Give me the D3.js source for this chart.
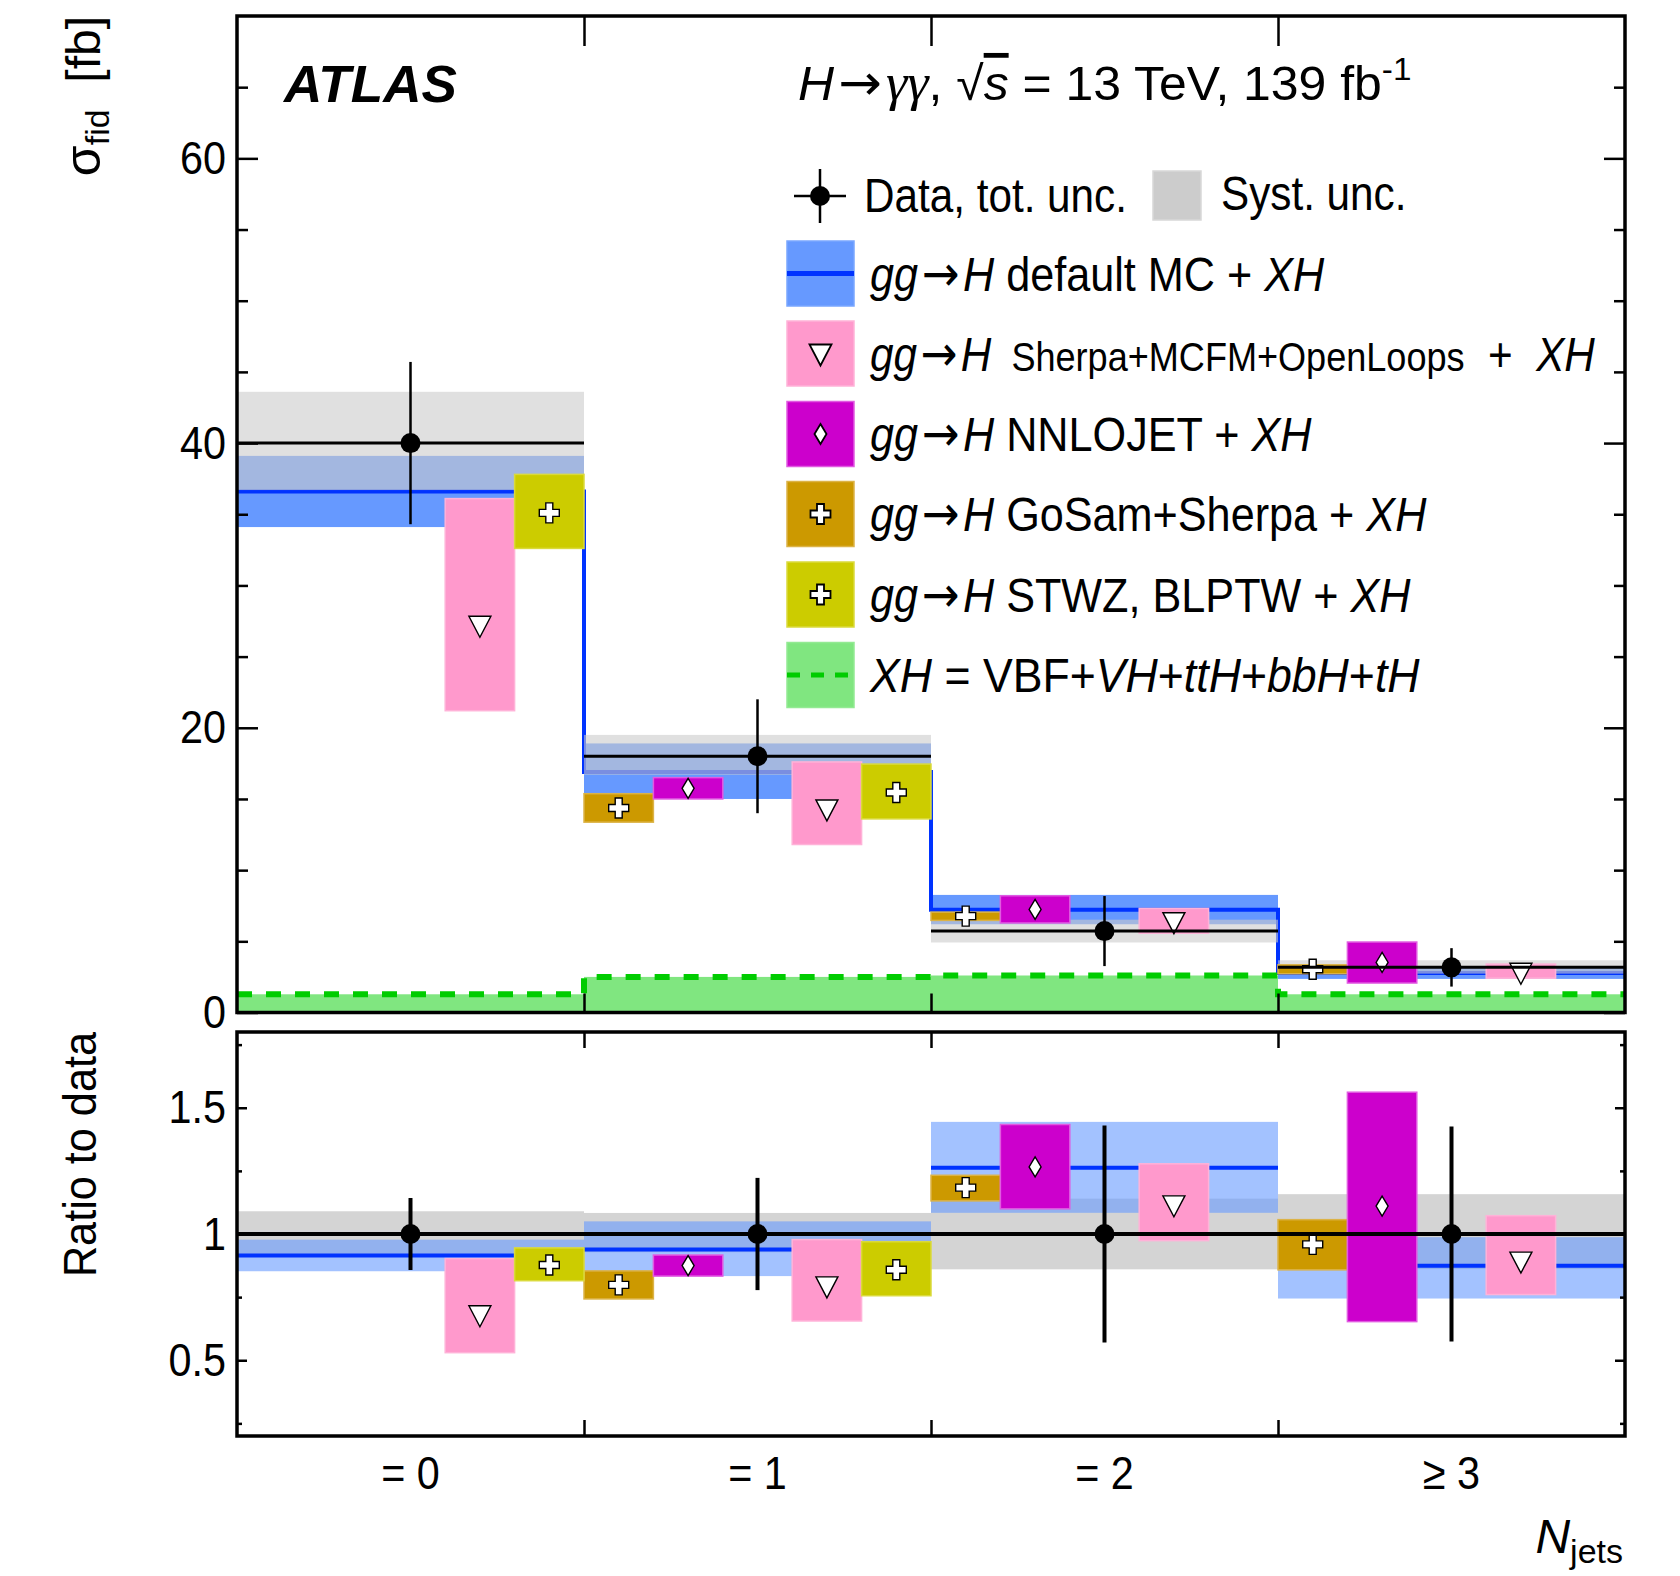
<!DOCTYPE html>
<html>
<head>
<meta charset="utf-8">
<script src="https://cdn.jsdelivr.net/npm/d3@7"></script>
<style>
body { margin: 0; background: #fff; }
text { font-family: "Liberation Sans", Arial, Helvetica, sans-serif; fill: #000; }
</style>
</head>
<body>
<script>

// N_jets bins
var bins = ["= 0", "= 1", "= 2", "\u2265 3"]

// data, total and systematic uncertainty [fb]
var dataVal = [40.0, 18.0, 5.72, 3.17]
var dataErr = [5.7, 4.0, 2.46, 1.35]
var systUp = [3.6, 1.5, 0.8, 0.5]
var systDn = [3.3, 1.3, 0.8, 0.44]

// gg->H default MC + XH
var mcVal = [36.6, 16.9, 7.22, 2.77]
var mcLo = [34.1, 15.0, 6.2, 2.36]
var mcHi = [39.1, 18.9, 8.26, 3.13]

// Sherpa+MCFM+OpenLoops
var sherpaVal = [27.2, 14.3, 6.38, 2.83]
var sherpaLo = [21.2, 11.8, 5.57, 2.41]
var sherpaHi = [36.1, 17.6, 7.31, 3.40]

// NNLOJET
var nnlojetVal = [null, 15.75, 7.24, 3.52]
var nnlojetLo = [null, 15.0, 6.29, 2.07]
var nnlojetHi = [null, 16.5, 8.2, 4.95]

// GoSam+Sherpa
var gosamVal = [null, 14.37, 6.77, 3.04]
var gosamLo = [null, 13.37, 6.47, 2.72]
var gosamHi = [null, 15.37, 7.05, 3.35]

// STWZ, BLPTW
var stwzVal = [35.1, 15.45, null, null]
var stwzLo = [32.6, 13.6, null, null]
var stwzHi = [37.8, 17.45, null, null]

// XH = VBF+VH+ttH+bbH+tH
var xhVal = [1.28, 2.5, 2.6, 1.28]

// tick values
var yMajor = [0, 20, 40, 60]
var yMinor = [5, 10, 15, 25, 30, 35, 45, 50, 55, 65]
var rMajor = [0.5, 1, 1.5]
var rMinor = [0.25, 0.75, 1.25, 1.75]


var L = 237, R = 1625
var upTop = 16, upBot = 1012.5
var loTop = 1032, loBot = 1436
var SX = 0.88

var svg = d3.select("body").append("svg")
  .attr("width", 1680)
  .attr("height", 1576)

var x = d3.scaleBand().domain(d3.range(bins.length)).range([L, R])
var xe = d3.scaleLinear().domain([0, bins.length]).range([L, R])
var slot = d3.scaleBand().domain(d3.range(5)).range([0, x.bandwidth()])
var y = d3.scaleLinear().domain([0, 70]).range([upBot, upTop])
var yr = d3.scaleLinear().domain([0.2, 1.8]).range([loBot, loTop])

var models = [
  { val: gosamVal, lo: gosamLo, hi: gosamHi, slot: 0, fill: "#cc9900", edge: "#dcb347", mark: "cross" },
  { val: nnlojetVal, lo: nnlojetLo, hi: nnlojetHi, slot: 1, fill: "#cc00cc", edge: "#e15ae1", mark: "diamond" },
  { val: sherpaVal, lo: sherpaLo, hi: sherpaHi, slot: 3, fill: "#ff99cc", edge: "#ffb2d8", mark: "tri" },
  { val: stwzVal, lo: stwzLo, hi: stwzHi, slot: 4, fill: "#cccc00", edge: "#dada3c", mark: "cross" }
]

var markPath = {
  tri: "M-11,-9L11,-9L0,12Z",
  diamond: "M0,-10L6,0L0,10L-6,0Z",
  cross: "M-3.5,-10h7v6.5h6.5v7h-6.5v6.5h-7v-6.5h-6.5v-7h6.5Z"
}

function drawModels(g, ys, ratio) {
  models.forEach(function (m) {
    var idx = d3.range(bins.length).filter(function (i) { return m.val[i] != null })
    var f = function (v, i) { return ratio ? v / dataVal[i] : v }
    g.selectAll(null).data(idx).enter().append("rect")
      .attr("x", function (i) { return x(i) + slot(m.slot) })
      .attr("width", slot.bandwidth())
      .attr("y", function (i) { return ys(f(m.hi[i], i)) })
      .attr("height", function (i) { return ys(f(m.lo[i], i)) - ys(f(m.hi[i], i)) })
      .attr("fill", m.fill)
      .attr("stroke", m.edge)
      .attr("stroke-width", 1.5)
    g.selectAll(null).data(idx).enter().append("path")
      .attr("d", markPath[m.mark])
      .attr("transform", function (i) {
        return "translate(" + (x(i) + slot(m.slot) + slot.bandwidth() / 2) + "," + ys(f(m.val[i], i)) + ")"
      })
      .attr("fill", "#fff")
      .attr("stroke", "#000")
      .attr("stroke-width", 1.4)
  })
}

function stepPoints(vals) {
  var pts = []
  vals.forEach(function (v, i) {
    pts.push([x(i), v])
    pts.push([x(i) + x.bandwidth(), v])
  })
  return pts
}

// ---------------- upper panel ----------------
var up = svg.append("g")

up.selectAll(null).data(xhVal).enter().append("rect")
  .attr("x", function (d, i) { return x(i) })
  .attr("width", x.bandwidth())
  .attr("y", function (d) { return y(d) })
  .attr("height", function (d) { return y(0) - y(d) })
  .attr("fill", "#80e680")

up.selectAll(null).data(mcVal).enter().append("rect")
  .attr("x", function (d, i) { return x(i) })
  .attr("width", x.bandwidth())
  .attr("y", function (d, i) { return y(mcHi[i]) })
  .attr("height", function (d, i) { return y(mcLo[i]) - y(mcHi[i]) })
  .attr("fill", "#6699ff")

up.append("path")
  .attr("d", d3.line().x(function (d) { return d[0] }).y(function (d) { return y(d[1]) })(stepPoints(mcVal)))
  .attr("fill", "none")
  .attr("stroke", "#0033ff")
  .attr("stroke-width", 4)

up.selectAll(null).data(dataVal).enter().append("rect")
  .attr("x", function (d, i) { return x(i) })
  .attr("width", x.bandwidth())
  .attr("y", function (d, i) { return y(d + systUp[i]) })
  .attr("height", function (d, i) { return y(d - systDn[i]) - y(d + systUp[i]) })
  .attr("fill", "#cbcbcb")
  .attr("fill-opacity", 0.6)

up.append("path")
  .attr("d", d3.line().x(function (d) { return d[0] }).y(function (d) { return y(d[1]) })(stepPoints(xhVal)))
  .attr("fill", "none")
  .attr("stroke", "#00cc00")
  .attr("stroke-width", 6)
  .attr("stroke-dasharray", "15,14")

drawModels(up, y, false)

// data
up.selectAll(null).data(dataVal).enter().append("line")
  .attr("x1", function (d, i) { return x(i) })
  .attr("x2", function (d, i) { return x(i) + x.bandwidth() })
  .attr("y1", function (d) { return y(d) })
  .attr("y2", function (d) { return y(d) })
  .attr("stroke", "#000").attr("stroke-width", 3)
up.selectAll(null).data(dataVal).enter().append("line")
  .attr("x1", function (d, i) { return x(i) + x.bandwidth() / 2 })
  .attr("x2", function (d, i) { return x(i) + x.bandwidth() / 2 })
  .attr("y1", function (d, i) { return y(d + dataErr[i]) })
  .attr("y2", function (d, i) { return y(d - dataErr[i]) })
  .attr("stroke", "#000").attr("stroke-width", 2.5)
up.selectAll(null).data(dataVal).enter().append("circle")
  .attr("cx", function (d, i) { return x(i) + x.bandwidth() / 2 })
  .attr("cy", function (d) { return y(d) })
  .attr("r", 10)
  .attr("fill", "#000")

// ---------------- ratio panel ----------------
var lo = svg.append("g")

lo.selectAll(null).data(dataVal).enter().append("rect")
  .attr("x", function (d, i) { return x(i) })
  .attr("width", x.bandwidth())
  .attr("y", function (d, i) { return yr(1 + systUp[i] / d) })
  .attr("height", function (d, i) { return yr(1 - systDn[i] / d) - yr(1 + systUp[i] / d) })
  .attr("fill", "#d4d4d4")

lo.selectAll(null).data(mcVal).enter().append("rect")
  .attr("x", function (d, i) { return x(i) })
  .attr("width", x.bandwidth())
  .attr("y", function (d, i) { return yr(mcHi[i] / dataVal[i]) })
  .attr("height", function (d, i) { return yr(mcLo[i] / dataVal[i]) - yr(mcHi[i] / dataVal[i]) })
  .attr("fill", "#6699ff")
  .attr("fill-opacity", 0.6)

lo.selectAll(null).data(mcVal).enter().append("line")
  .attr("x1", function (d, i) { return x(i) })
  .attr("x2", function (d, i) { return x(i) + x.bandwidth() })
  .attr("y1", function (d, i) { return yr(d / dataVal[i]) })
  .attr("y2", function (d, i) { return yr(d / dataVal[i]) })
  .attr("stroke", "#0033ff").attr("stroke-width", 4)

drawModels(lo, yr, true)

lo.append("line")
  .attr("x1", L).attr("x2", R)
  .attr("y1", yr(1)).attr("y2", yr(1))
  .attr("stroke", "#000").attr("stroke-width", 4)
lo.selectAll(null).data(dataVal).enter().append("line")
  .attr("x1", function (d, i) { return x(i) + x.bandwidth() / 2 })
  .attr("x2", function (d, i) { return x(i) + x.bandwidth() / 2 })
  .attr("y1", function (d, i) { return yr(1 + dataErr[i] / d) })
  .attr("y2", function (d, i) { return yr(1 - dataErr[i] / d) })
  .attr("stroke", "#000").attr("stroke-width", 4)
lo.selectAll(null).data(dataVal).enter().append("circle")
  .attr("cx", function (d, i) { return x(i) + x.bandwidth() / 2 })
  .attr("cy", yr(1))
  .attr("r", 10)
  .attr("fill", "#000")

// ---------------- frames and axes ----------------
function squeeze(sel, dx) {
  sel.selectAll(".tick text")
    .attr("x", 0)
    .attr("transform", "translate(" + dx + ",0) scale(" + SX + ",1)")
}

function yAxes(scale, major, minor, bigTick, smallTick) {
  var gl = svg.append("g").attr("transform", "translate(" + L + ",0)")
    .call(d3.axisLeft(scale).tickValues(major).tickFormat(function (d) { return String(d) })
      .tickSizeInner(-bigTick).tickSizeOuter(0).tickPadding(11))
  gl.select(".domain").remove()
  gl.selectAll(".tick text").attr("font-size", 47).attr("font-family", null)
  squeeze(gl, -11)
  var gm = svg.append("g").attr("transform", "translate(" + L + ",0)")
    .call(d3.axisLeft(scale).tickValues(minor).tickSizeInner(-smallTick).tickSizeOuter(0).tickFormat(""))
  gm.select(".domain").remove()
  var gr = svg.append("g").attr("transform", "translate(" + R + ",0)")
    .call(d3.axisRight(scale).tickValues(major).tickSizeInner(-bigTick).tickSizeOuter(0).tickFormat(""))
  gr.select(".domain").remove()
  var grm = svg.append("g").attr("transform", "translate(" + R + ",0)")
    .call(d3.axisRight(scale).tickValues(minor).tickSizeInner(-smallTick).tickSizeOuter(0).tickFormat(""))
  grm.select(".domain").remove()
  svg.selectAll(".tick line").attr("stroke-width", 2.5)
}

yAxes(y, yMajor, yMinor, 21, 11)
yAxes(yr, rMajor, rMinor, 10, 5)

function xTicks(yy, len, dir) {
  var ax = dir === "top" ? d3.axisTop(xe) : d3.axisBottom(xe)
  var g = svg.append("g").attr("transform", "translate(0," + yy + ")")
    .call(ax.tickValues([1, 2, 3]).tickSizeInner(-len).tickSizeOuter(0).tickFormat(""))
  g.select(".domain").remove()
  g.selectAll(".tick line").attr("stroke-width", 2.5)
}
xTicks(upTop, 30, "top")
xTicks(upBot, 19, "bottom")
xTicks(loTop, 16, "top")
xTicks(loBot, 16, "bottom")

var gx = svg.append("g").attr("transform", "translate(0," + loBot + ")")
  .call(d3.axisBottom(x).tickFormat(function (i) { return bins[i] }).tickSize(0).tickPadding(20))
gx.select(".domain").remove()
gx.selectAll(".tick text").attr("font-size", 47).attr("font-family", null)
squeeze(gx, 0)

svg.append("rect").attr("x", L).attr("y", upTop).attr("width", R - L).attr("height", upBot - upTop)
  .attr("fill", "none").attr("stroke", "#000").attr("stroke-width", 3.5)
svg.append("rect").attr("x", L).attr("y", loTop).attr("width", R - L).attr("height", loBot - loTop)
  .attr("fill", "none").attr("stroke", "#000").attr("stroke-width", 3.5)

// ---------------- texts ----------------
function label(x0, y0, anchor, scale, size, parts, rot) {
  var t = svg.append("text")
    .attr("transform", "translate(" + x0 + "," + y0 + ")" + (rot ? " rotate(" + rot + ")" : "") + " scale(" + scale + ",1)")
    .attr("text-anchor", anchor)
    .attr("font-size", size)
    .attr("xml:space", "preserve")
  parts.forEach(function (p) {
    var s = t.append("tspan").text(p[0])
    if (p[1]) {
      for (var k in p[1]) s.attr(k, p[1][k])
    }
  })
  return t
}
var IT = { "font-style": "italic" }
var ARROW = ["\u2192", { "font-family": "DejaVu Sans", "font-size": 50, dx: 4 }]
var HAFTER = ["H", { "font-style": "italic", dx: 4 }]
var GAMMA = ["\u03b3\u03b3", { "font-family": "Liberation Serif", "font-style": "italic", "font-size": 52, dx: 4 }]

label(100, 16, "end", 1, 48, [
  ["\u03c3", { "font-size": 50 }],
  ["fid", { "font-size": 34, dy: 9 }],
  ["  [fb]", { dy: -9 }]
], -90)

label(96, loTop, "end", 0.94, 46, [["Ratio to data"]], -90)

label(1623, 1553, "end", 1, 48, [
  ["N", IT],
  ["jets", { "font-size": 34, dy: 10 }]
])

label(284, 102, "start", 1.04, 51, [["ATLAS", { "font-weight": "bold", "font-style": "italic" }]])

label(798, 100, "start", 1.04, 48, [
  ["H", IT], ARROW, GAMMA, [", \u221a"],
  ["s", { "font-style": "italic", "text-decoration": "overline" }],
  [" = 13 TeV, 139 fb"],
  ["-1", { "font-size": 32, dy: -20 }]
])

// legend
var legX0 = 787, legW = 67, legH = 65, legTx = 870
var legRows = [273.5, 353.5, 434, 514, 594.5, 675]
var LX = 0.9

// data entry
svg.append("line").attr("x1", 794).attr("x2", 846).attr("y1", 196).attr("y2", 196).attr("stroke", "#000").attr("stroke-width", 2.5)
svg.append("line").attr("x1", 820).attr("x2", 820).attr("y1", 169).attr("y2", 223).attr("stroke", "#000").attr("stroke-width", 2.5)
svg.append("circle").attr("cx", 820).attr("cy", 196).attr("r", 10).attr("fill", "#000")
label(864, 212, "start", SX, 48, [["Data, tot. unc."]])
svg.append("rect").attr("x", 1153).attr("y", 171).attr("width", 48).attr("height", 49)
  .attr("fill", "#cccccc").attr("stroke", "#d8d8d8").attr("stroke-width", 1.5)
label(1221, 210, "start", SX, 48, [["Syst. unc."]])

var legFill = ["#6699ff", "#ff99cc", "#cc00cc", "#cc9900", "#cccc00", "#80e680"]
var legEdge = ["#7aa7ff", "#ffb2d8", "#e15ae1", "#dcb347", "#dada3c", "#93ea93"]
var legMark = [null, "tri", "diamond", "cross", "cross", null]

legRows.forEach(function (cy, k) {
  svg.append("rect").attr("x", legX0).attr("y", cy - legH / 2).attr("width", legW).attr("height", legH)
    .attr("fill", legFill[k]).attr("stroke", legEdge[k]).attr("stroke-width", 1.5)
  if (legMark[k]) {
    svg.append("path").attr("d", markPath[legMark[k]])
      .attr("transform", "translate(" + (legX0 + legW / 2) + "," + cy + ")")
      .attr("fill", "#fff").attr("stroke", "#000").attr("stroke-width", 1.8)
  }
})
svg.append("line").attr("x1", legX0).attr("x2", legX0 + legW).attr("y1", legRows[0]).attr("y2", legRows[0])
  .attr("stroke", "#0033ff").attr("stroke-width", 5)
svg.append("line").attr("x1", legX0).attr("x2", legX0 + legW).attr("y1", legRows[5]).attr("y2", legRows[5])
  .attr("stroke", "#00cc00").attr("stroke-width", 5).attr("stroke-dasharray", "13,11")

var ggH = [["gg", IT], ARROW, HAFTER]
label(legTx, legRows[0] + 17, "start", LX, 48, ggH.concat([[" default MC + "], ["XH", IT]]))
label(legTx, legRows[1] + 17, "start", SX, 48, ggH.concat([["  Sherpa+MCFM+OpenLoops", { "font-size": 41 }], ["  +  "], ["XH", IT]]))
label(legTx, legRows[2] + 17, "start", LX, 48, ggH.concat([[" NNLOJET + "], ["XH", IT]]))
label(legTx, legRows[3] + 17, "start", LX, 48, ggH.concat([[" GoSam+Sherpa + "], ["XH", IT]]))
label(legTx, legRows[4] + 17, "start", LX, 48, ggH.concat([[" STWZ, BLPTW + "], ["XH", IT]]))
label(legTx, legRows[5] + 17, "start", 0.93, 48, [
  ["XH", IT], [" = VBF+"], ["VH", IT], ["+"], ["ttH", IT], ["+"], ["bbH", IT], ["+"], ["tH", IT]
])

</script>
</body>
</html>
